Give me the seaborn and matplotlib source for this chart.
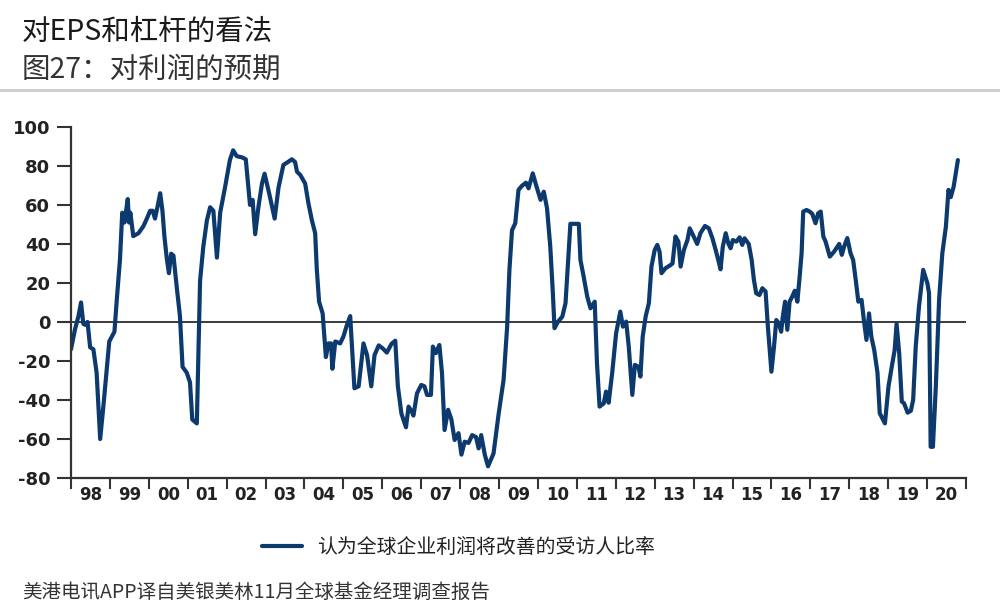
import matplotlib
matplotlib.use("Agg")
import matplotlib.pyplot as plt
import seaborn as sns
import pandas as pd
from matplotlib.lines import Line2D

# months since Jan 1998 and survey values (%)
months = [0, 1.2, 2.3, 3.1, 3.8, 4.5, 5.1, 5.9, 6.9, 7.9, 9, 10, 11, 11.8, 13.4, 14.1, 15.1, 15.8, 16.5, 16.9,
          17.5, 17.9, 18.3, 19.2, 20.8, 22.3, 23.4, 24.4, 25.2, 25.9, 26.8, 27.5, 28.2, 28.8, 29.5, 30.2, 30.9,
          31.6, 32.6, 33.6, 34.4, 35.7, 36.7, 37.4, 38.8, 39.8, 40.8, 41.9, 42.9, 43.9, 45, 46, 47.5, 49, 50,
          51.1, 52.7, 53.9, 54.7, 55.2, 56, 56.8, 57.8, 58.9, 59.7, 61.1, 62.8, 64, 65.5, 66.9, 68.1, 69.1,
          69.7, 70.7, 72.2, 73.2, 74.3, 75.3, 75.8, 76.5, 77.6, 78.6, 79.4, 80.2, 80.6, 81.5, 83, 84, 85.1,
          86.1, 87.4, 88.7, 90.2, 91.3, 92.6, 93.6, 94.9, 96.1, 97.4, 98.8, 100, 100.8, 101.9, 103.3, 104.1,
          105.1, 105.6, 106.7, 108, 109, 109.8, 111, 111.6, 112.5, 113.6, 114.4, 115.2, 116.3, 117.3, 118.3,
          119.5, 120.4, 121.4, 122.6, 123.7, 124.9, 125.7, 126.5, 127.6, 128.6, 130.3, 131.9, 133.4, 134.5,
          135.2, 136, 137, 138, 139, 140.3, 141.1, 142.4, 143.4, 144.8, 145.8, 146.8, 147.8, 148.6, 149.1,
          150.2, 151.5, 152.5, 153.3, 154, 156.6, 157.1, 158.1, 159.2, 160.2, 161.5, 162.2, 163, 164.3, 165,
          165.8, 166.9, 168.1, 169.4, 170.2, 171.2, 172, 173.1, 173.9, 175, 175.6, 176.3, 177.2, 178.2, 179,
          180, 180.8, 181.5, 182.1, 183.3, 184.9, 185.5, 186.4, 187.3, 188, 189, 190.1, 190.8, 191.8, 193.1,
          194.1, 195.5, 196.7, 197.8, 198.8, 199.6, 200.3, 201, 201.9, 202.7, 203.4, 204.1, 205.2, 206.2,
          207, 207.7, 209, 209.9, 210.6, 211.3, 212.3, 213.2, 214.2, 214.9, 216, 216.8, 217.5, 218.3, 219,
          219.5, 220.2, 220.9, 221.6, 222.4, 223.2, 224, 224.7, 225.3, 225.8, 226.8, 227.8, 228.6, 229.6,
          230.4, 231.2, 232, 232.7, 234, 235.3, 236.9, 237.7, 238.4, 239.4, 240.4, 241.2, 242, 242.8, 243.8,
          244.5, 245.3, 246.1, 246.8, 247.7, 248.7, 249.4, 250.2, 251, 252.1, 253.1, 254, 254.6, 255.4,
          256.2, 256.9, 258, 259, 259.7, 260.5, 261.5, 262.8, 264.1, 264.6, 265.1, 265.8, 266.7, 267.7,
          268.7, 269.8, 270.6, 271.3, 272.2, 273.5]
values = [-14, -4, 3, 10, -1, -1.5, 0, -13, -14, -26, -60, -43, -25, -10, -5, 11, 32, 56, 51, 56,
          63, 51, 56, 44, 45.5, 49, 53, 57, 57, 53, 60, 66, 57, 44, 33, 25, 35,
          34, 18, 3, -23, -26, -31, -50, -52, 21, 38.6, 52, 58.8, 57, 33, 56, 69, 83, 88,
          85, 84.4, 83.4, 69, 60, 62.6, 45, 59, 71, 76, 66, 53, 69, 80.5, 82, 83.4, 82,
          77, 75.4, 71, 61, 52, 45.5, 27, 10.4, 4.4, -18, -11, -11, -24, -10, -11, -7.5, -1.5,
          3, -34, -33, -11, -17, -33, -17, -12, -13.5, -15.7, -11.3, -9.6, -33, -47, -54, -43.4,
          -46, -48, -36.6, -32.3, -33, -37.4, -37.4, -12.6, -16, -11.8, -26, -55.4, -45, -50, -60.5,
          -57, -68, -61.4, -62, -58, -59, -64.8, -58, -68, -74, -67.4, -46.8, -29.7, -2.4,
          26.7, 47, 50.6, 67.7, 69.7, 71.4, 68.5, 76.2, 70.3, 62.6, 66.8, 58.3, 38.6, 14.7, -3.2,
          0.2, 2.7, 9.6, 31.8, 50.3, 50.3, 31.8, 23.2, 13, 7, 10.4, -21, -43.4, -41.7, -35.7,
          -41.4, -26, -5.8, 5.3, -2.4, 0.2, -12.6, -37.4, -22, -23, -28, -7.5, 2.7, 9.6, 28.4,
          36.9, 39.5, 36, 25, 27.5, 29.2, 30, 43.8, 41.2, 28.4, 36.9, 42, 48, 44.6, 40,
          45.5, 49.2, 48, 42.9, 36.9, 31.8, 27, 38.6, 45.5, 40.3, 37.8, 42, 41.2, 43.4,
          39.5, 42.9, 40, 31.8, 21.5, 14.7, 13.8, 17.3, 15.6, -2.4, -25.5, -12.6, 1, -0.7, -5,
          2.7, 10.4, -4, 10.4, 13, 16, 10.4, 23.2, 35.2, 56.6, 57.4, 56.6, 55.4, 50.6,
          55.7, 56.6, 43.8, 41.2, 33.5, 36, 40, 34.4, 38.6, 43, 35.2, 31.8, 21.5, 10.4, 11.3,
          1, -9.2, 4.4, -7.5, -14.4, -26, -46.8, -49.4, -52, -33, -23, -14.4, -1, -16,
          -40.8, -41.7, -46.5, -45.5, -40, -12.6, 7.9, 26.7, 19.8, 14.7, -64, -64, -33, 11.3,
          35.2, 48.9, 67.7, 64, 69.4, 83]

years = list(range(1998, 2021))
year_labels = ["98", "99", "00", "01", "02", "03", "04", "05", "06", "07", "08", "09", "10",
               "11", "12", "13", "14", "15", "16", "17", "18", "19", "20"]
y_ticks = [-80, -60, -40, -20, 0, 20, 40, 60, 80, 100]

title = "对EPS和杠杆的看法"
subtitle = "图27：对利润的预期"
series_name = "认为全球企业利润将改善的受访人比率"
source = "美港电讯APP译自美银美林11月全球基金经理调查报告"

sns.set_theme(style="white")
plt.rcParams['font.family'] = ['DejaVu Sans', 'Noto Sans CJK SC']
cjk = ['Noto Sans CJK SC', 'DejaVu Sans']

LINE = "#0d3a6e"
df = pd.DataFrame({"x": [1998 + m / 12 for m in months], "y": values})

fig = plt.figure(figsize=(10, 6.16), dpi=100)
ax = fig.add_axes([0.071, 0.224, 0.895, 0.570])

sns.lineplot(data=df, x="x", y="y", ax=ax, color=LINE, lw=3.0, estimator=None, sort=False)
ax.axhline(0, color="#3a3a3a", lw=1.4, zorder=1)

ax.set_xlim(1998, 2021)
ax.set_ylim(-80, 100)
ax.set_yticks(y_ticks)
ax.set_yticklabels([str(v) for v in y_ticks], fontweight="bold", fontsize=13, color="#222222",
                   family="DejaVu Sans")
ax.set_xticks(years + [2021])
ax.set_xticklabels([])
ax.set_xticks([y + 0.5 for y in years], minor=True)
ax.set_xticklabels(year_labels, minor=True, fontweight="bold", fontsize=12, color="#222222",
                   family="DejaVu Sans")
ax.tick_params(axis="y", which="major", left=True, direction="out", length=10, width=1.5,
               color="#333333", pad=5)
ax.tick_params(axis="x", which="major", bottom=True, direction="out", length=8, width=1.5,
               color="#333333")
ax.tick_params(axis="x", which="minor", bottom=False, length=0, pad=6)
ax.set_xlabel("")
ax.set_ylabel("")
for s in ["top", "right"]:
    ax.spines[s].set_visible(False)
for s in ["left", "bottom"]:
    ax.spines[s].set_color("#333333")
    ax.spines[s].set_linewidth(1.6)
ax.grid(False)

fig.text(0.022, 0.948, title, fontsize=20.5, color="#1a1a1a", family=cjk, fontweight="medium",
         va="center", ha="left")
fig.text(0.022, 0.887, subtitle, fontsize=20.5, color="#333333", family=cjk, va="center", ha="left")
fig.add_artist(Line2D([0, 1], [0.854, 0.854], transform=fig.transFigure, color="#cccccc", lw=2))

handle = Line2D([], [], color=LINE, lw=3.0)
leg = fig.legend([handle], [series_name], loc="center left", bbox_to_anchor=(0.262, 0.112),
                 frameon=False, handlelength=2.0, handletextpad=0.75, borderpad=0,
                 borderaxespad=0, prop={"family": cjk, "size": 14.3})
for t in leg.get_texts():
    t.set_color("#222222")

fig.text(0.022, 0.039, source, fontsize=14, color="#333333", family=cjk, va="center", ha="left")

fig.savefig("out.png", dpi=100)
